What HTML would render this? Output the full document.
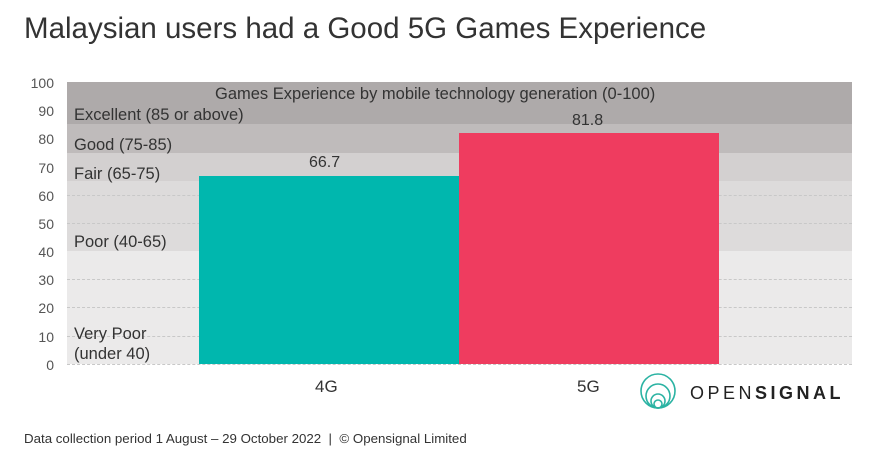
<!DOCTYPE html><html><head><style>
body{margin:0;width:887px;height:459px;background:#fff;font-family:"Liberation Sans",sans-serif;position:relative;overflow:hidden;color:#333}
.a{position:absolute}
.t{position:absolute;white-space:nowrap}
.y{position:absolute;left:20px;width:34px;text-align:right;font-size:14px;color:#555}
.b{position:absolute;left:67px;width:785px}
.l{position:absolute;left:74px;font-size:16.5px;color:#333}
.g{position:absolute;left:67px;width:785px;border-top:1px dashed #c8c8c8}
</style></head><body>
<div class="t" style="left:24px;top:12px;font-size:29.5px;color:#333">Malaysian users had a Good 5G Games Experience</div>
<div class="b" style="top:82px;height:42px;background:#aeaaaa"></div>
<div class="b" style="top:124px;height:29px;background:#bfbbbb"></div>
<div class="b" style="top:153px;height:28px;background:#d3d0d0"></div>
<div class="b" style="top:181px;height:70px;background:#dddbdb"></div>
<div class="b" style="top:251px;height:113px;background:#ebeaea"></div>
<div class="g" style="top:195px"></div><div class="g" style="top:223px"></div>
<div class="g" style="top:279px"></div><div class="g" style="top:307px"></div><div class="g" style="top:336px"></div><div class="g" style="top:364px"></div>
<div class="y" style="top:75px">100</div><div class="y" style="top:103px">90</div><div class="y" style="top:131px">80</div><div class="y" style="top:160px">70</div><div class="y" style="top:188px">60</div><div class="y" style="top:216px">50</div><div class="y" style="top:244px">40</div><div class="y" style="top:272px">30</div><div class="y" style="top:300px">20</div><div class="y" style="top:329px">10</div><div class="y" style="top:357px">0</div>
<div class="t" style="left:215px;top:85px;font-size:16.5px">Games Experience by mobile technology generation (0-100)</div>
<div class="l" style="top:106px">Excellent (85 or above)</div>
<div class="l" style="top:136px">Good (75-85)</div>
<div class="l" style="top:165px">Fair (65-75)</div>
<div class="l" style="top:233px">Poor (40-65)</div>
<div class="l" style="top:324px;line-height:20px">Very Poor<br>(under 40)</div>
<div class="a" style="left:199px;top:176px;width:260px;height:188px;background:#00b7ae"></div>
<div class="a" style="left:459px;top:133px;width:260px;height:231px;background:#ef3c5f"></div>
<div class="t" style="left:309px;top:154px;font-size:16px">66.7</div>
<div class="t" style="left:572px;top:112px;font-size:16px">81.8</div>
<div class="t" style="left:315px;top:377px;font-size:17px">4G</div>
<div class="t" style="left:577px;top:377px;font-size:17px">5G</div>
<svg class="a" style="left:638px;top:372px" width="40" height="40" viewBox="0 0 40 40" fill="none" stroke="#2bb3a3" stroke-width="1.6"><circle cx="20" cy="19" r="17"/><circle cx="20" cy="24" r="12"/><circle cx="20" cy="29" r="7"/><circle cx="20" cy="32" r="4"/></svg>
<div class="t" style="left:690px;top:383px;font-size:18px;letter-spacing:3.5px;color:#222">OPEN<b>SIGNAL</b></div>
<div class="t" style="left:24px;top:431px;font-size:13.3px;color:#333">Data collection period 1 August – 29 October 2022 &nbsp;|&nbsp; © Opensignal Limited</div>
</body></html>
